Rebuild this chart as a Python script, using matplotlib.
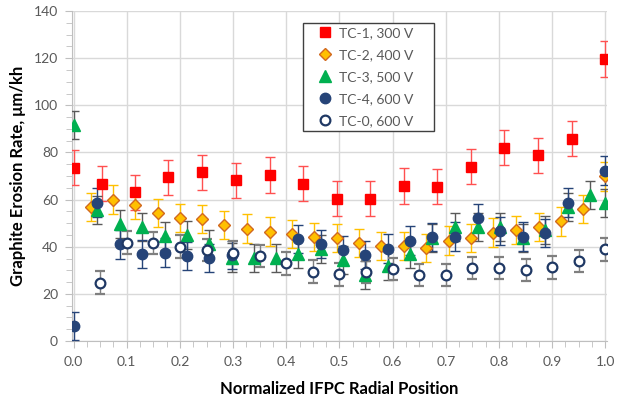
import matplotlib
matplotlib.use("Agg")
import matplotlib.pyplot as plt
from matplotlib.ticker import MultipleLocator

plt.rcParams['font.family'] = ['Lato', 'DejaVu Sans']

# TC-1, 300 V
x1 = [0.0, 0.054, 0.116, 0.178, 0.242, 0.305, 0.369, 0.431, 0.495, 0.558,
      0.621, 0.684, 0.747, 0.81, 0.874, 0.937, 1.0]
y1 = [73.6, 66.7, 63.1, 69.5, 71.5, 68.1, 70.4, 66.7, 60.4, 60.4,
      65.8, 65.5, 74.0, 82.0, 78.7, 85.9, 119.6]
e1 = 7.5

# TC-2, 400 V
x2 = [0.032, 0.074, 0.116, 0.158, 0.201, 0.242, 0.283, 0.327, 0.369, 0.411,
      0.453, 0.495, 0.537, 0.579, 0.621, 0.663, 0.706, 0.747, 0.789, 0.833,
      0.875, 0.917, 0.958, 1.0]
y2 = [56.8, 60.0, 57.9, 54.2, 52.1, 51.8, 49.1, 47.7, 46.4, 45.4,
      44.0, 43.6, 41.5, 40.2, 40.2, 39.6, 42.6, 43.6, 46.0, 47.1,
      48.3, 50.7, 56.1, 69.8]
e2 = 6.0

# TC-3, 500 V
x3 = [0.0, 0.044, 0.087, 0.129, 0.171, 0.213, 0.255, 0.297, 0.339, 0.381,
      0.423, 0.465, 0.507, 0.549, 0.591, 0.633, 0.675, 0.718, 0.76, 0.802,
      0.845, 0.887, 0.929, 0.971, 1.0]
y3 = [91.7, 55.6, 49.7, 48.5, 44.6, 45.0, 41.0, 35.4, 35.1, 35.1,
      36.9, 38.9, 34.4, 28.0, 31.8, 36.8, 43.6, 48.3, 48.5, 48.5,
      43.6, 47.1, 56.8, 62.0, 58.5]
e3 = 6.0

# TC-4, 600 V
x4 = [0.0, 0.044, 0.087, 0.129, 0.171, 0.213, 0.255, 0.297, 0.423, 0.465,
      0.507, 0.549, 0.591, 0.633, 0.675, 0.718, 0.76, 0.802, 0.845, 0.887,
      0.929, 1.0]
y4 = [6.4, 58.7, 41.0, 36.9, 37.5, 36.2, 35.1, 36.5, 43.3, 41.1,
      38.6, 36.5, 39.2, 42.6, 44.0, 44.3, 52.1, 46.7, 44.3, 45.7,
      58.7, 72.3]
e4 = 6.0

# TC-0, 600 V
x0 = [0.05, 0.1, 0.15, 0.2, 0.25, 0.3, 0.35, 0.4, 0.45, 0.5,
      0.55, 0.6, 0.65, 0.7, 0.75, 0.8, 0.85, 0.9, 0.95, 1.0]
y0 = [24.8, 41.7, 41.5, 40.0, 38.6, 37.5, 36.1, 33.0, 29.4, 28.3,
      29.3, 30.6, 28.0, 28.0, 30.9, 30.9, 30.2, 31.3, 34.0, 38.9]
e0 = 4.8

fig = plt.figure(figsize=(6.18, 4.0), dpi=100)
ax = fig.add_axes([0.1165, 0.1475, 0.8655, 0.825])

c1 = ax.errorbar(x1, y1, yerr=e1, fmt='s', ms=7, color='#FF0000', mec='#FF0000',
                 ecolor='#FF5050', elinewidth=1, capsize=3.5, label='TC-1, 300 V', zorder=3)
c2 = ax.errorbar(x2, y2, yerr=e2, fmt='D', ms=6, color='#FFC000', mec='#D2691E', mew=1,
                 ecolor='#FFC000', elinewidth=1, capsize=3.5, label='TC-2, 400 V', zorder=3)
c3 = ax.errorbar(x3, y3, yerr=e3, fmt='^', ms=8, color='#00B050', mec='#00B050',
                 ecolor='#595959', elinewidth=1, capsize=3.5, label='TC-3, 500 V', zorder=3)
c4 = ax.errorbar(x4, y4, yerr=e4, fmt='o', ms=7.5, color='#264478', mec='#264478',
                 ecolor='#264478', elinewidth=1, capsize=3.5, label='TC-4, 600 V', zorder=3)
c0 = ax.errorbar(x0, y0, yerr=e0, fmt='o', ms=7, color='#1F3864', mfc='white', mec='#1F3864',
                 mew=1.6, ecolor='#7F7F7F', elinewidth=1, capsize=3.5, label='TC-0, 600 V', zorder=3)

ax.set_xlim(-0.003, 1.003)
ax.set_ylim(0, 140)
ax.xaxis.set_major_locator(MultipleLocator(0.1))
ax.xaxis.set_minor_locator(MultipleLocator(0.025))
ax.yaxis.set_major_locator(MultipleLocator(20))
ax.yaxis.set_minor_locator(MultipleLocator(5))
ax.set_xticks([i / 10 for i in range(11)])
ax.set_xticklabels(['%.1f' % (i / 10) for i in range(11)])

ax.grid(True, which='major', color='#D9D9D9', lw=1, zorder=0)
for s in ['top', 'right']:
    ax.spines[s].set_visible(False)
for s in ['left', 'bottom']:
    ax.spines[s].set_color('#BFBFBF')
ax.tick_params(which='both', color='#BFBFBF', labelcolor='#595959', labelsize=10)
ax.tick_params(which='major', length=5)
ax.tick_params(which='minor', length=4)
ax.tick_params(axis='x', pad=6)
ax.tick_params(axis='y', pad=5)

ax.set_xlabel('Normalized IFPC Radial Position', fontsize=12, fontweight='bold', labelpad=9)
ax.set_ylabel('Graphite Erosion Rate, \u03bcm/kh', fontsize=12, fontweight='bold', labelpad=6)

handles = [c[0] for c in (c1, c2, c3, c4, c0)]
labels = ['TC-1, 300 V', 'TC-2, 400 V', 'TC-3, 500 V', 'TC-4, 600 V', 'TC-0, 600 V']
leg = ax.legend(handles, labels, loc='upper left', bbox_to_anchor=(0.432, 0.63, 0.245, 0.3345),
                mode='expand', fontsize=10, numpoints=1,
                frameon=True, fancybox=False, edgecolor='#404040', framealpha=1,
                handletextpad=-0.3, handlelength=2.6, borderpad=0.3, labelspacing=0.72,
                borderaxespad=0)
leg.get_frame().set_linewidth(1.0)
for t in leg.get_texts():
    t.set_color('#595959')

fig.savefig('out.png', dpi=100)
